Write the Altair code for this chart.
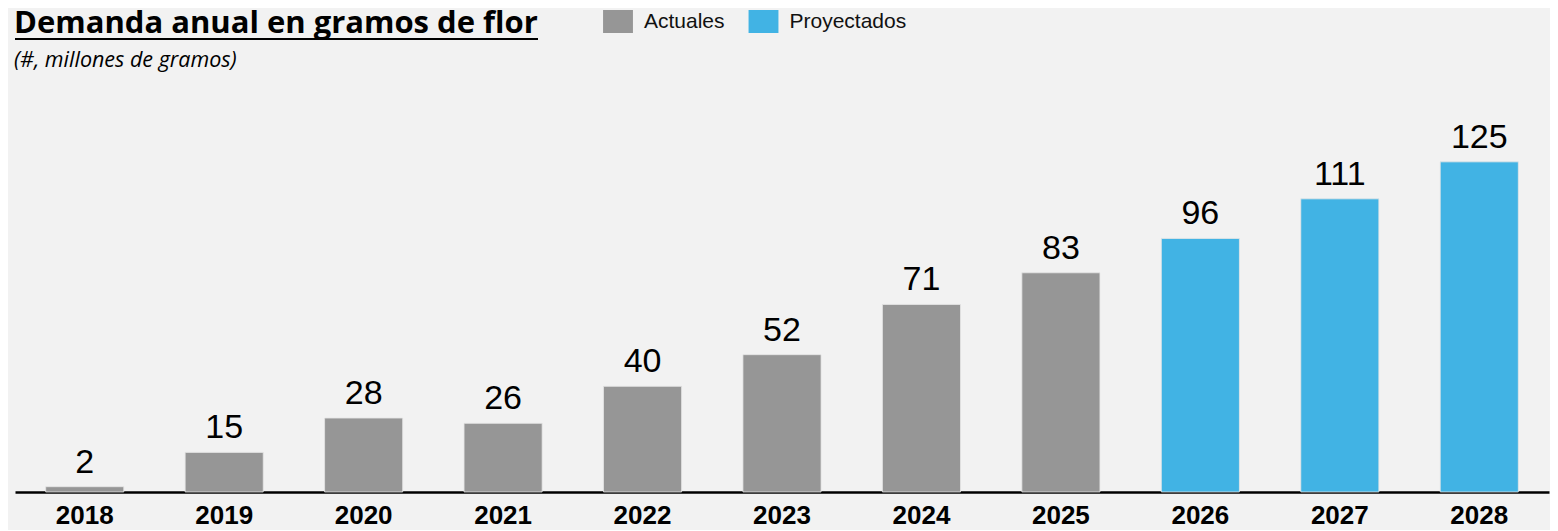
import altair as alt
import pandas as pd

years = ["2018", "2019", "2020", "2021", "2022", "2023", "2024", "2025", "2026", "2027", "2028"]
values = [2, 15, 28, 26, 40, 52, 71, 83, 96, 111, 125]
types = ["Actuales"] * 8 + ["Proyectados"] * 3
categories = ["Actuales", "Proyectados"]
colors = ["#969696", "#41b3e4"]

title_text = "Demanda anual en gramos de flor"
subtitle_text = "(#, millones de gramos)"

df = pd.DataFrame({"year": years, "value": values, "type": types})

BG = "#f2f2f2"

x_enc = alt.X(
    "year:N",
    sort=years,
    scale=alt.Scale(paddingInner=0.44, paddingOuter=0.22),
    axis=alt.Axis(
        title=None,
        labelAngle=0,
        labelFont="Liberation Sans",
        labelFontSize=26,
        labelFontWeight="bold",
        labelColor="#000000",
        labelPadding=10,
        ticks=False,
        tickSize=0,
        domainColor="#000000",
        domainWidth=2.5,
        grid=False,
    ),
)
y_enc = alt.Y(
    "value:Q",
    scale=alt.Scale(domain=[0, 156], nice=False, zero=True),
    axis=None,
)

bars = alt.Chart(df).mark_bar(stroke="#e6e6e6", strokeWidth=0.8).encode(
    x=x_enc,
    y=y_enc,
    color=alt.Color(
        "type:N",
        scale=alt.Scale(domain=categories, range=colors),
        legend=alt.Legend(
            title=None,
            orient="none",
            legendX=591.5,
            legendY=-70,
            direction="horizontal",
            symbolType="M-1.3,-1H1.3V1H-1.3Z",
            symbolSize=529,
            symbolStrokeWidth=0,
            labelFont="Liberation Sans",
            labelFontSize=21,
            labelColor="#111111",
            labelOffset=14.5,
            columnPadding=22.5,
            padding=0,
        ),
    ),
)

labels = alt.Chart(df).mark_text(
    font="Liberation Sans", fontSize=34, color="#000000", baseline="alphabetic", dy=-14
).encode(
    x=alt.X("year:N", sort=years),
    y=alt.Y("value:Q"),
    text=alt.Text("value:Q"),
)

tdf = pd.DataFrame({"t": [title_text]})
title = alt.Chart(tdf).mark_text(
    font="Open Sans", fontSize=31, fontWeight="bold", align="left", baseline="alphabetic", color="#000000"
).encode(x=alt.value(-1), y=alt.value(-46.7), text="t:N")

underline = alt.Chart(tdf).mark_rule(color="#000000", strokeWidth=2.2).encode(
    x=alt.value(0), x2=alt.value(523), y=alt.value(-41)
)

sdf = pd.DataFrame({"t": [subtitle_text]})
subtitle = alt.Chart(sdf).mark_text(
    font="Open Sans", fontSize=21.5, fontStyle="italic", align="left", baseline="alphabetic", color="#000000"
).encode(x=alt.value(-1), y=alt.value(-13.3), text="t:N")

chart = alt.layer(bars, labels, title, underline, subtitle).properties(
    width=1534,
    height=412,
    padding={"left": 7, "top": 72, "right": 1, "bottom": 38},
    autosize=alt.AutoSizeParams(type="none"),
    background=BG,
).configure_view(stroke=None, fill=BG)

chart.save("out.html", embed_options={"renderer": "svg", "actions": False})
